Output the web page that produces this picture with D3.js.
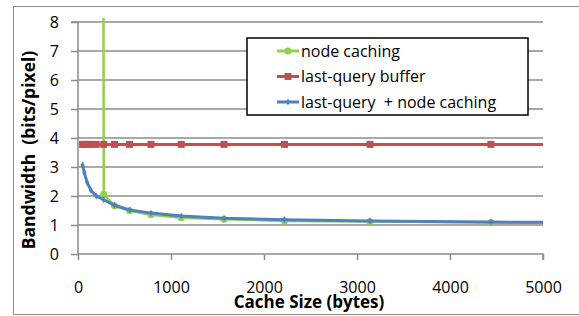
<!DOCTYPE html>
<html>
<head>
<meta charset="utf-8">
<script src="https://cdn.jsdelivr.net/npm/d3@7"></script>
<style>
  body { margin: 0; background: #fff; }
  text { font-family: "Open Sans", sans-serif; fill: #000; }
</style>
</head>
<body>
<div id="vis"></div>
<script>
// cache sizes (bytes) for each measured point
const sizes = [49, 69, 98, 139, 196, 277, 392, 555, 785, 1110, 1570, 2220, 3140, 4440, 6280];
const lastQuery = [3.78, 3.78, 3.78, 3.78, 3.78, 3.78, 3.78, 3.78, 3.78, 3.78, 3.78, 3.78, 3.78, 3.78, 3.78];
const combined = [3.07, 2.8, 2.47, 2.2, 2.0, 1.87, 1.68, 1.52, 1.41, 1.31, 1.23, 1.18, 1.14, 1.1, 1.08];
// node caching only starts working at 277 bytes, the point before is far off the chart
const nodeSizes = [196, 277, 392, 555, 785, 1110, 1570, 2220, 3140, 4440, 6280];
const nodeCaching = [200, 2.06, 1.66, 1.49, 1.35, 1.25, 1.2, 1.14, 1.12, 1.09, 1.06];
const xTicks = [0, 1000, 2000, 3000, 4000, 5000];
const yTicks = [0, 1, 2, 3, 4, 5, 6, 7, 8];

const width = 579, height = 316;
const margin = { top: 22, right: 36, bottom: 62, left: 78 };

const svg = d3.select('#vis').append('svg')
  .attr('width', width)
  .attr('height', height);

// chart frame
svg.append('rect')
  .attr('x', 13.5).attr('y', 6.5)
  .attr('width', width).attr('height', 308)
  .attr('fill', 'none').attr('stroke', '#8c8c8c').attr('stroke-width', 1);

const x = d3.scaleLinear().domain([0, 5000]).range([margin.left, width - margin.right]);
const y = d3.scaleLinear().domain([0, 8]).range([height - margin.bottom, margin.top]);

svg.append('clipPath').attr('id', 'plot')
  .append('rect')
  .attr('x', margin.left).attr('y', margin.top - 4)
  .attr('width', x(5000) - margin.left).attr('height', y(0) - margin.top + 8);

// horizontal gridlines
svg.append('g')
  .selectAll('line')
  .data(yTicks.slice(1))
  .join('line')
  .attr('x1', x(0)).attr('x2', x(5000))
  .attr('y1', d => y(d)).attr('y2', d => y(d))
  .attr('stroke', '#8c8c8c').attr('stroke-width', 1.5);

// y axis
const yAxis = svg.append('g')
  .attr('transform', `translate(${x(0)},0)`)
  .call(d3.axisLeft(y).tickValues(yTicks).tickSize(7).tickPadding(12).tickFormat(d3.format('d')));
yAxis.select('.domain').attr('stroke', '#8c8c8c').attr('stroke-width', 1.5).attr('d', `M-7,${y(8)}H0V${y(0)}`);
yAxis.selectAll('.tick line').attr('stroke', '#8c8c8c').attr('stroke-width', 1.5);
yAxis.selectAll('.tick text').style('font-size', '16px').attr('fill', '#000');

// x axis
const xAxis = svg.append('g')
  .attr('transform', `translate(0,${y(0)})`)
  .call(d3.axisBottom(x).tickValues(xTicks).tickSize(6).tickPadding(22).tickFormat(d3.format('d')));
xAxis.select('.domain').attr('stroke', '#8c8c8c').attr('stroke-width', 1.5).attr('d', `M${x(0)},0H${x(5000)}V6`);
xAxis.selectAll('.tick line').attr('stroke', '#8c8c8c').attr('stroke-width', 1.5);
xAxis.selectAll('.tick text').style('font-size', '16px').attr('fill', '#000');

const line = d3.line().x(d => x(d[0])).y(d => y(d[1]));
const plot = svg.append('g').attr('clip-path', 'url(#plot)');

const green = '#92d050', red = '#c0504d', blue = '#4f81bd';

// node caching
const nodeData = nodeSizes.map((s, i) => [s, nodeCaching[i]]);
plot.append('path').datum(nodeData).attr('d', line)
  .attr('fill', 'none').attr('stroke', green).attr('stroke-width', 2.5);
plot.selectAll('.gdot').data(nodeData.filter(d => d[1] < 8)).join('circle')
  .attr('cx', d => x(d[0])).attr('cy', d => y(d[1])).attr('r', 3.5).attr('fill', green);

// last-query buffer
const redData = sizes.map((s, i) => [s, lastQuery[i]]);
plot.append('path').datum(redData).attr('d', line)
  .attr('fill', 'none').attr('stroke', red).attr('stroke-width', 3);
plot.selectAll('.rsq').data(redData).join('rect')
  .attr('x', d => x(d[0]) - 3.5).attr('y', d => y(d[1]) - 3.5)
  .attr('width', 7).attr('height', 7).attr('fill', red);

// last-query + node caching
const blueData = sizes.map((s, i) => [s, combined[i]]);
plot.append('path').datum(blueData).attr('d', line)
  .attr('fill', 'none').attr('stroke', blue).attr('stroke-width', 3);
plot.selectAll('.bdot').data(blueData).join('path')
  .attr('transform', d => `translate(${x(d[0])},${y(d[1])})`)
  .attr('d', d3.symbol(d3.symbolDiamond, 14)).attr('fill', blue);

// legend
const legend = svg.append('g');
legend.append('rect')
  .attr('x', 247).attr('y', 38).attr('width', 281).attr('height', 77)
  .attr('fill', '#fff').attr('stroke', '#000').attr('stroke-width', 1.5);
const entries = [
  { name: 'node caching', color: green, mark: 'circle' },
  { name: 'last-query buffer', color: red, mark: 'square' },
  { name: 'last-query  + node caching', color: blue, mark: 'diamond' }
];
entries.forEach((e, i) => {
  const cy = 51 + i * 25.5;
  const g = legend.append('g').attr('transform', `translate(0,${cy})`);
  g.append('line').attr('x1', 277).attr('x2', 299).attr('stroke', e.color).attr('stroke-width', 3);
  if (e.mark === 'circle') g.append('circle').attr('cx', 288).attr('r', 3.5).attr('fill', e.color);
  if (e.mark === 'square') g.append('rect').attr('x', 284.5).attr('y', -3.5).attr('width', 7).attr('height', 7).attr('fill', e.color);
  if (e.mark === 'diamond') g.append('path').attr('transform', 'translate(288,0)').attr('d', d3.symbol(d3.symbolDiamond, 14)).attr('fill', e.color);
  g.append('text').attr('x', 301).attr('dy', '0.35em').style('font-size', '16px')
    .style('white-space', 'pre').text(e.name);
});

// axis titles
svg.append('text')
  .attr('x', 309).attr('y', 308)
  .attr('text-anchor', 'middle')
  .style('font-size', '17px').style('font-weight', 700)
  .text('Cache Size (bytes)');

svg.append('text')
  .attr('transform', 'translate(29,150) rotate(-90)')
  .attr('text-anchor', 'middle').attr('dy', '0.35em')
  .style('font-size', '17.5px').style('font-weight', 700)
  .style('white-space', 'pre')
  .text('Bandwidth  (bits/pixel)');
</script>
</body>
</html>
